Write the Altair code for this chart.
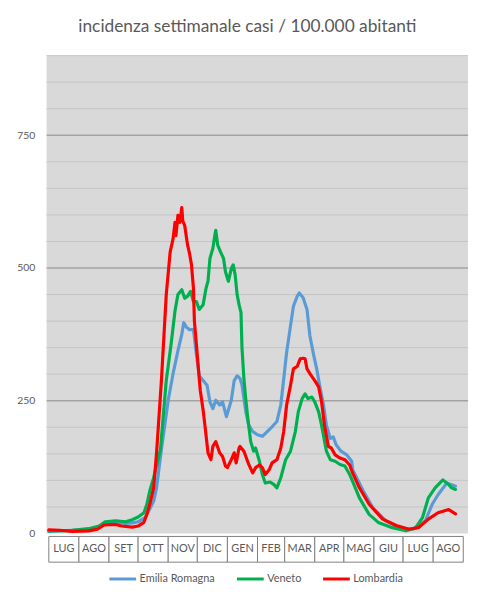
import altair as alt
import pandas as pd

# day offsets from 1 July 2020 and weekly incidence per 100,000 inhabitants
er_days = [0, 24, 41, 52, 58, 69, 79, 86, 92, 99, 104, 108, 111, 116, 123, 128, 133, 137, 139, 142, 145, 149, 150, 152, 155, 159, 163, 166, 169, 172, 176, 179, 183, 188, 191, 194, 197, 199, 203, 206, 210, 215, 220, 225, 230, 235, 239, 242, 245, 249, 252, 256, 258, 262, 266, 269, 273, 276, 279, 283, 286, 290, 293, 296, 301, 307, 312, 313, 324, 334, 347, 361, 375, 388, 395, 401, 410, 415, 419]
er_vals = [4, 6, 8, 12, 20, 21, 19, 20, 22, 30, 46, 61, 86, 158, 251, 301, 344, 375, 397, 388, 384, 384, 369, 338, 297, 288, 279, 248, 235, 251, 242, 248, 220, 251, 288, 297, 292, 280, 229, 204, 192, 186, 183, 192, 201, 211, 242, 291, 341, 391, 428, 447, 453, 444, 422, 372, 335, 310, 279, 242, 204, 179, 182, 167, 155, 148, 136, 120, 80, 48, 24, 11, 8, 24, 55, 73, 95, 92, 89]

ve_days = [0, 24, 41, 52, 58, 69, 79, 86, 92, 98, 101, 104, 108, 115, 121, 126, 130, 133, 137, 140, 143, 146, 149, 152, 155, 159, 162, 164, 166, 169, 171, 172, 174, 177, 180, 182, 185, 188, 190, 192, 194, 196, 198, 199, 201, 203, 205, 208, 211, 213, 217, 220, 223, 228, 232, 235, 239, 244, 249, 254, 257, 261, 264, 267, 271, 274, 278, 281, 286, 290, 295, 300, 305, 310, 313, 320, 330, 340, 354, 368, 378, 385, 391, 398, 406, 412, 415, 419]
ve_vals = [5, 6, 9, 14, 22, 24, 22, 26, 31, 39, 55, 80, 105, 158, 288, 357, 419, 450, 459, 443, 447, 456, 437, 437, 422, 431, 462, 475, 518, 537, 561, 571, 543, 530, 518, 493, 475, 499, 506, 487, 450, 431, 416, 350, 291, 251, 217, 173, 155, 161, 136, 111, 95, 97, 92, 86, 105, 139, 155, 192, 229, 254, 263, 254, 257, 248, 229, 204, 155, 139, 136, 130, 127, 111, 98, 67, 36, 20, 11, 5, 11, 30, 67, 86, 101, 92, 86, 83]

lo_days = [0, 11, 24, 41, 50, 57, 69, 75, 86, 92, 98, 101, 104, 108, 111, 116, 121, 125, 128, 130, 131, 133, 135, 137, 138, 140, 143, 145, 147, 149, 150, 152, 154, 156, 159, 161, 164, 167, 169, 172, 176, 179, 182, 184, 188, 191, 193, 196, 197, 201, 206, 210, 213, 217, 220, 223, 227, 230, 235, 239, 242, 245, 249, 252, 256, 259, 262, 264, 266, 269, 274, 278, 281, 284, 288, 291, 295, 300, 305, 310, 313, 320, 330, 344, 358, 371, 381, 391, 401, 412, 419]
lo_vals = [7, 6, 4, 5, 8, 16, 17, 14, 12, 14, 21, 36, 55, 86, 152, 288, 450, 530, 555, 586, 561, 599, 586, 614, 589, 580, 543, 527, 506, 462, 400, 357, 313, 270, 232, 201, 152, 139, 164, 173, 152, 145, 127, 124, 139, 152, 133, 161, 164, 155, 130, 114, 124, 129, 124, 111, 120, 133, 139, 161, 192, 242, 279, 310, 315, 329, 330, 329, 310, 301, 288, 276, 248, 204, 164, 161, 148, 142, 139, 129, 114, 86, 55, 27, 15, 8, 11, 27, 39, 45, 37]

series_names = ["Emilia Romagna", "Veneto", "Lombardia"]
series_colors = ["#5b9bd5", "#00b050", "#ff0000"]

month_labels = ["LUG", "AGO", "SET", "OTT", "NOV", "DIC", "GEN", "FEB", "MAR", "APR", "MAG", "GIU", "LUG", "AGO"]
month_lengths = [31, 31, 30, 31, 30, 31, 31, 28, 31, 30, 31, 30, 31, 31]

y_labels = [0, 250, 500, 750]
major_grid = [250, 500, 750]
minor_grid = [50, 100, 150, 200, 300, 350, 400, 450, 550, 600, 650, 700, 800, 850, 900]

rows = []
for name, ds, vs in [(series_names[0], er_days, er_vals),
                     (series_names[1], ve_days, ve_vals),
                     (series_names[2], lo_days, lo_vals)]:
    for d, v in zip(ds, vs):
        rows.append({"day": d, "value": v, "serie": name})
df = pd.DataFrame(rows)

starts, ends = [], []
acc = 0
for n in month_lengths:
    starts.append(acc)
    acc += n
    ends.append(acc)
months = pd.DataFrame({"label": month_labels, "start": starts, "end": ends,
                       "mid": [(a + b) / 2 for a, b in zip(starts, ends)]})

XDOM = [-2.3, 431.9]
YDOM = [0, 900]
xs = alt.Scale(domain=XDOM, nice=False, zero=False)
ys = alt.Scale(domain=YDOM, nice=False)
yaxis = alt.Axis(values=y_labels, grid=False, domain=False, ticks=False,
                 labelPadding=12, labelFontSize=10.5, labelColor="#595959",
                 labelFont="Lato", title=None)

minor = alt.Chart(pd.DataFrame({"value": minor_grid})).mark_rule(
    color="#c4c4c4", strokeWidth=1
).encode(y=alt.Y("value:Q", scale=ys, axis=yaxis))

major = alt.Chart(pd.DataFrame({"value": major_grid})).mark_rule(
    color="#a3a3a3", strokeWidth=1.5
).encode(y=alt.Y("value:Q", scale=ys, axis=yaxis))

box = alt.Chart(months).mark_rect(fill="white", stroke="#7f7f7f", strokeWidth=1).encode(
    x=alt.X("start:Q", scale=xs, axis=None),
    x2="end:Q",
    y=alt.value(486),
    y2=alt.value(512),
)

box_text = alt.Chart(months).mark_text(
    font="Lato", fontSize=11, color="#595959", baseline="middle", align="center"
).encode(
    x=alt.X("mid:Q", scale=xs, axis=None),
    y=alt.value(499),
    text="label:N",
)

lines = alt.Chart(df).mark_line(strokeWidth=3.2, interpolate="linear",
                                strokeJoin="round", strokeCap="round").encode(
    x=alt.X("day:Q", scale=xs, axis=None),
    y=alt.Y("value:Q", scale=ys, axis=yaxis),
    color=alt.Color("serie:N",
                    scale=alt.Scale(domain=series_names, range=series_colors),
                    legend=alt.Legend(orient="none", legendX=62, legendY=514,
                                      direction="horizontal", title=None,
                                      symbolType="stroke", symbolSize=729,
                                      symbolStrokeWidth=3, labelFontSize=11,
                                      labelColor="#595959", labelFont="Lato",
                                      columnPadding=15, labelOffset=2)),
    detail="serie:N",
)

chart = alt.layer(minor, major, box, box_text, lines).properties(
    width=426,
    height=483,
    background="white",
    autosize=alt.AutoSizeParams(type="none"),
    padding={"left": 39, "top": 45, "right": 3, "bottom": 56},
    title=alt.TitleParams("incidenza settimanale casi / 100.000 abitanti",
                          font="Lato", fontSize=17.5, fontWeight="normal",
                          color="#595959", anchor="middle", offset=20, dx=-10),
).configure_view(fill="#d9d9d9", stroke=None)

chart.save("out.html", embed_options={"renderer": "svg", "actions": False})
